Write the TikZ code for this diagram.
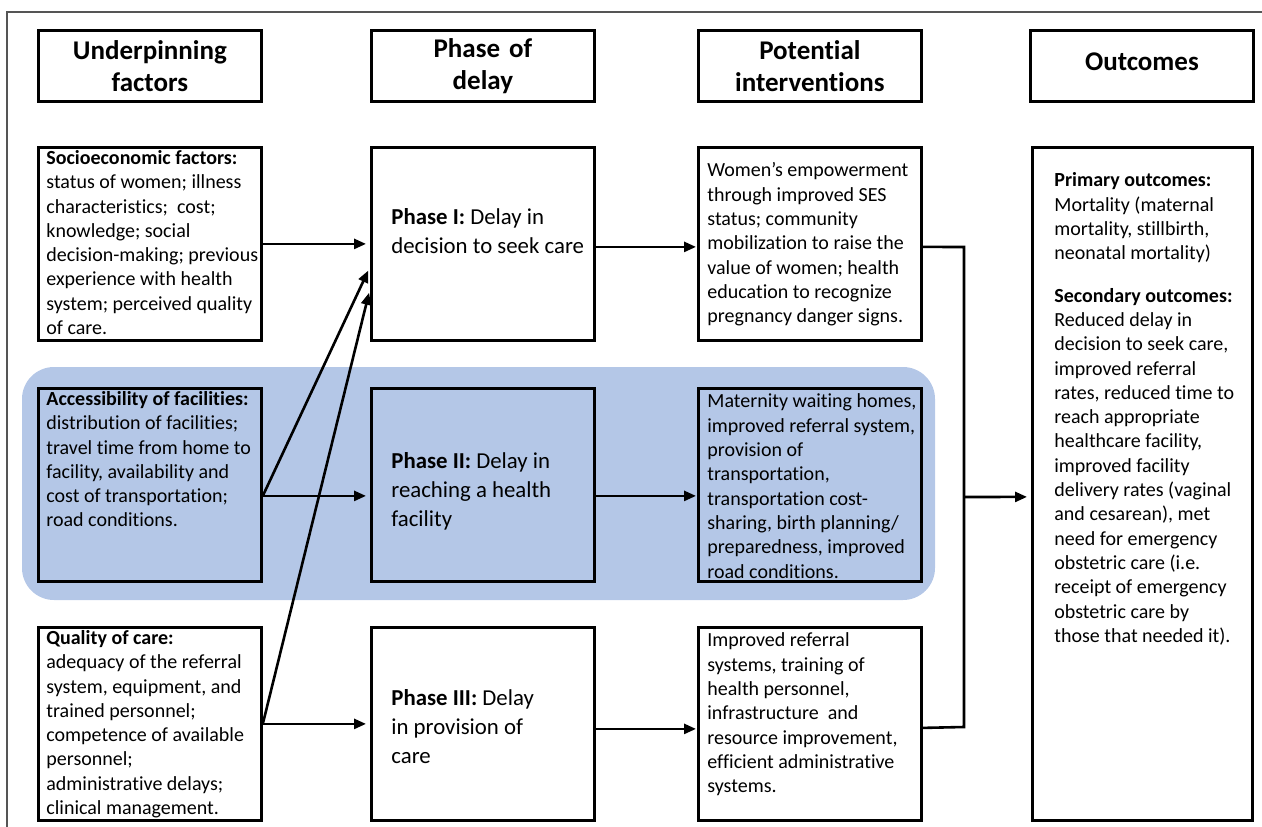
\documentclass[tikz,border=0pt]{standalone}
\usepackage{fontspec}
\setmainfont{Carlito}[Ligatures={TeX,NoCommon}]
\usetikzlibrary{arrows.meta}

\definecolor{bandblue}{RGB}{180,199,231}
\definecolor{framegray}{RGB}{85,85,85}

\newcommand{\bodyfont}{\fontsize{20}{24.3}\selectfont}
\newcommand{\headfont}{\fontsize{27}{32}\selectfont\bfseries}
\newcommand{\phasefont}{\fontsize{22.8}{29}\selectfont}
\newcommand{\cell}[3]{\parbox[t][#1][t]{#2}{\begin{tabular}[t]{@{}l@{}}#3\end{tabular}}}
\newcommand{\phasecell}[2][0pt]{\parbox[c][193pt][c]{223pt}{\vspace*{#1}\hspace*{20pt}\begin{tabular}[c]{@{}l@{}}#2\end{tabular}}}

\tikzset{
  headbox/.style={draw, line width=2.8pt, anchor=north west, minimum width=223pt,
    minimum height=71pt, text width=215pt, align=center, inner sep=0pt, font=\headfont},
  factorbox/.style={draw, line width=2.8pt, anchor=north west, inner xsep=8pt,
    inner ysep=0pt, font=\bodyfont},
  phasebox/.style={draw, line width=2.8pt, anchor=north west, inner sep=0pt, font=\phasefont},
  actionbox/.style={draw, line width=2.8pt, anchor=north west, inner xsep=9pt,
    inner ysep=2.5pt, font=\bodyfont},
  outbox/.style={draw, line width=2.8pt, anchor=north west, inner xsep=22pt,
    inner ysep=22.5pt, font=\bodyfont},
  link/.style={line width=2.6pt, ->, shorten >=4pt},
  linkb/.style={line width=2.6pt, ->, shorten >=1pt},
  bus/.style={line width=2.6pt}
}

\begin{document}
\begin{tikzpicture}[x=1pt, y=-1pt, >={Triangle[length=12pt,width=10pt]}]
      \useasboundingbox (0,0) rectangle (1262,827);
      \draw [framegray, line width=1.5pt] (7,827) -- (7,12) -- (1262,12);
      \fill [bandblue, rounded corners=32pt] (22,367) rectangle (935,600);

      \node [headbox] (hfac) at (37,29) {Underpinning\\factors};
      \node [headbox] (hpha) at (370,29) {Phase of\\delay};
      \node [headbox] (hint) at (697,29) {Potential\\interventions};
      \node [headbox, text depth=8pt] (hout) at (1029,29) {Outcomes};

      \node [factorbox] (soc) at (37,146) {\cell{193pt}{207pt}{\textbf{Socioeconomic factors:}\\
        status of women; illness\\ characteristics;\ \ cost;\\ knowledge; social\\
        decision-making; previous\\ experience with health\\ system; perceived quality\\ of care.}};
      \node [factorbox] (acc) at (37,387) {\cell{193pt}{207pt}{\textbf{Accessibility of facilities:}\\
        distribution of facilities;\\ travel time from home to\\ facility, availability and\\
        cost of transportation;\\ road conditions.}};
      \node [factorbox] (qual) at (37,626) {\cell{193pt}{207pt}{\textbf{Quality of care:}\\
        adequacy of the referral\\ system, equipment, and\\ trained personnel;\\
        competence of available\\ personnel;\\ administrative delays;\\ clinical management.}};

      \node [phasebox] (ph1) at (370,146) {\phasecell{\textbf{Phase I:} Delay in\\ decision to seek care\\[22pt]}};
      \node [phasebox] (ph2) at (370,387) {\phasecell[14pt]{\textbf{Phase II:} Delay in\\ reaching a health\\ facility}};
      \node [phasebox] (ph3) at (370,626) {\phasecell[10pt]{\textbf{Phase III:} Delay\\ in provision of\\ care}};

      \node [actionbox, inner ysep=12.5pt] (act1) at (697,146) {\cell{168pt}{205pt}{Women's empowerment\\
        through improved SES\\ status; community\\ mobilization to raise the\\
        value of women; health\\ education to recognize\\ pregnancy danger signs.}};
      \node [actionbox] (act2) at (697,387) {\cell{188pt}{205pt}{Maternity waiting homes,\\
        improved referral system,\\ provision of\\ transportation,\\ transportation cost-\\
        sharing, birth planning/\\ preparedness, improved\\ road conditions.}};
      \node [actionbox] (act3) at (697,626) {\cell{188pt}{205pt}{Improved referral\\
        systems, training of\\ health personnel,\\ infrastructure\ \ and\\
        resource improvement,\\ efficient administrative\\ systems.}};

      \node [outbox] (res) at (1031,146) {\cell{628pt}{176pt}{\textbf{Primary outcomes:}\\
        Mortality (maternal\\ mortality, stillbirth,\\ neonatal mortality)\\[18pt]
        \textbf{Secondary outcomes:}\\ Reduced delay in\\ decision to seek care,\\
        improved referral\\ rates, reduced time to\\ reach appropriate\\
        healthcare facility,\\ improved facility\\ delivery rates (vaginal\\
        and cesarean), met\\ need for emergency\\ obstetric care (i.e.\\
        receipt of emergency\\ obstetric care by\\ those that needed it).}};

      \draw [link] (soc.east) -- (ph1.west);
      \draw [link] ([yshift=-11pt]acc.east) -- ([yshift=-11pt]ph2.west);
      \draw [link] ([yshift=-11pt]acc.east) -- ([yshift=-23pt]ph1.west);
      \draw [link] (qual.east) -- (ph3.west);
      \draw [link] (qual.east) -- ([yshift=-45pt]ph1.west);

      \draw [linkb] ([yshift=-3pt]ph1.east) -- ([yshift=-3pt]act1.west);
      \draw [linkb] ([yshift=-11pt]ph2.east) -- ([yshift=-11pt]act2.west);
      \draw [linkb] ([yshift=-5pt]ph3.east) -- ([yshift=-5pt]act3.west);

      \coordinate (bustop) at (964,247);
      \coordinate (busbot) at (964,727);
      \coordinate (busmid) at (964,497);
      \draw [bus] ([yshift=-3pt]act1.east) -- (bustop) -- (busbot) -- ([yshift=-4pt]act3.east);
      \draw [link] (busmid) -- ([yshift=-13pt]res.west);
\end{tikzpicture}
\end{document}
